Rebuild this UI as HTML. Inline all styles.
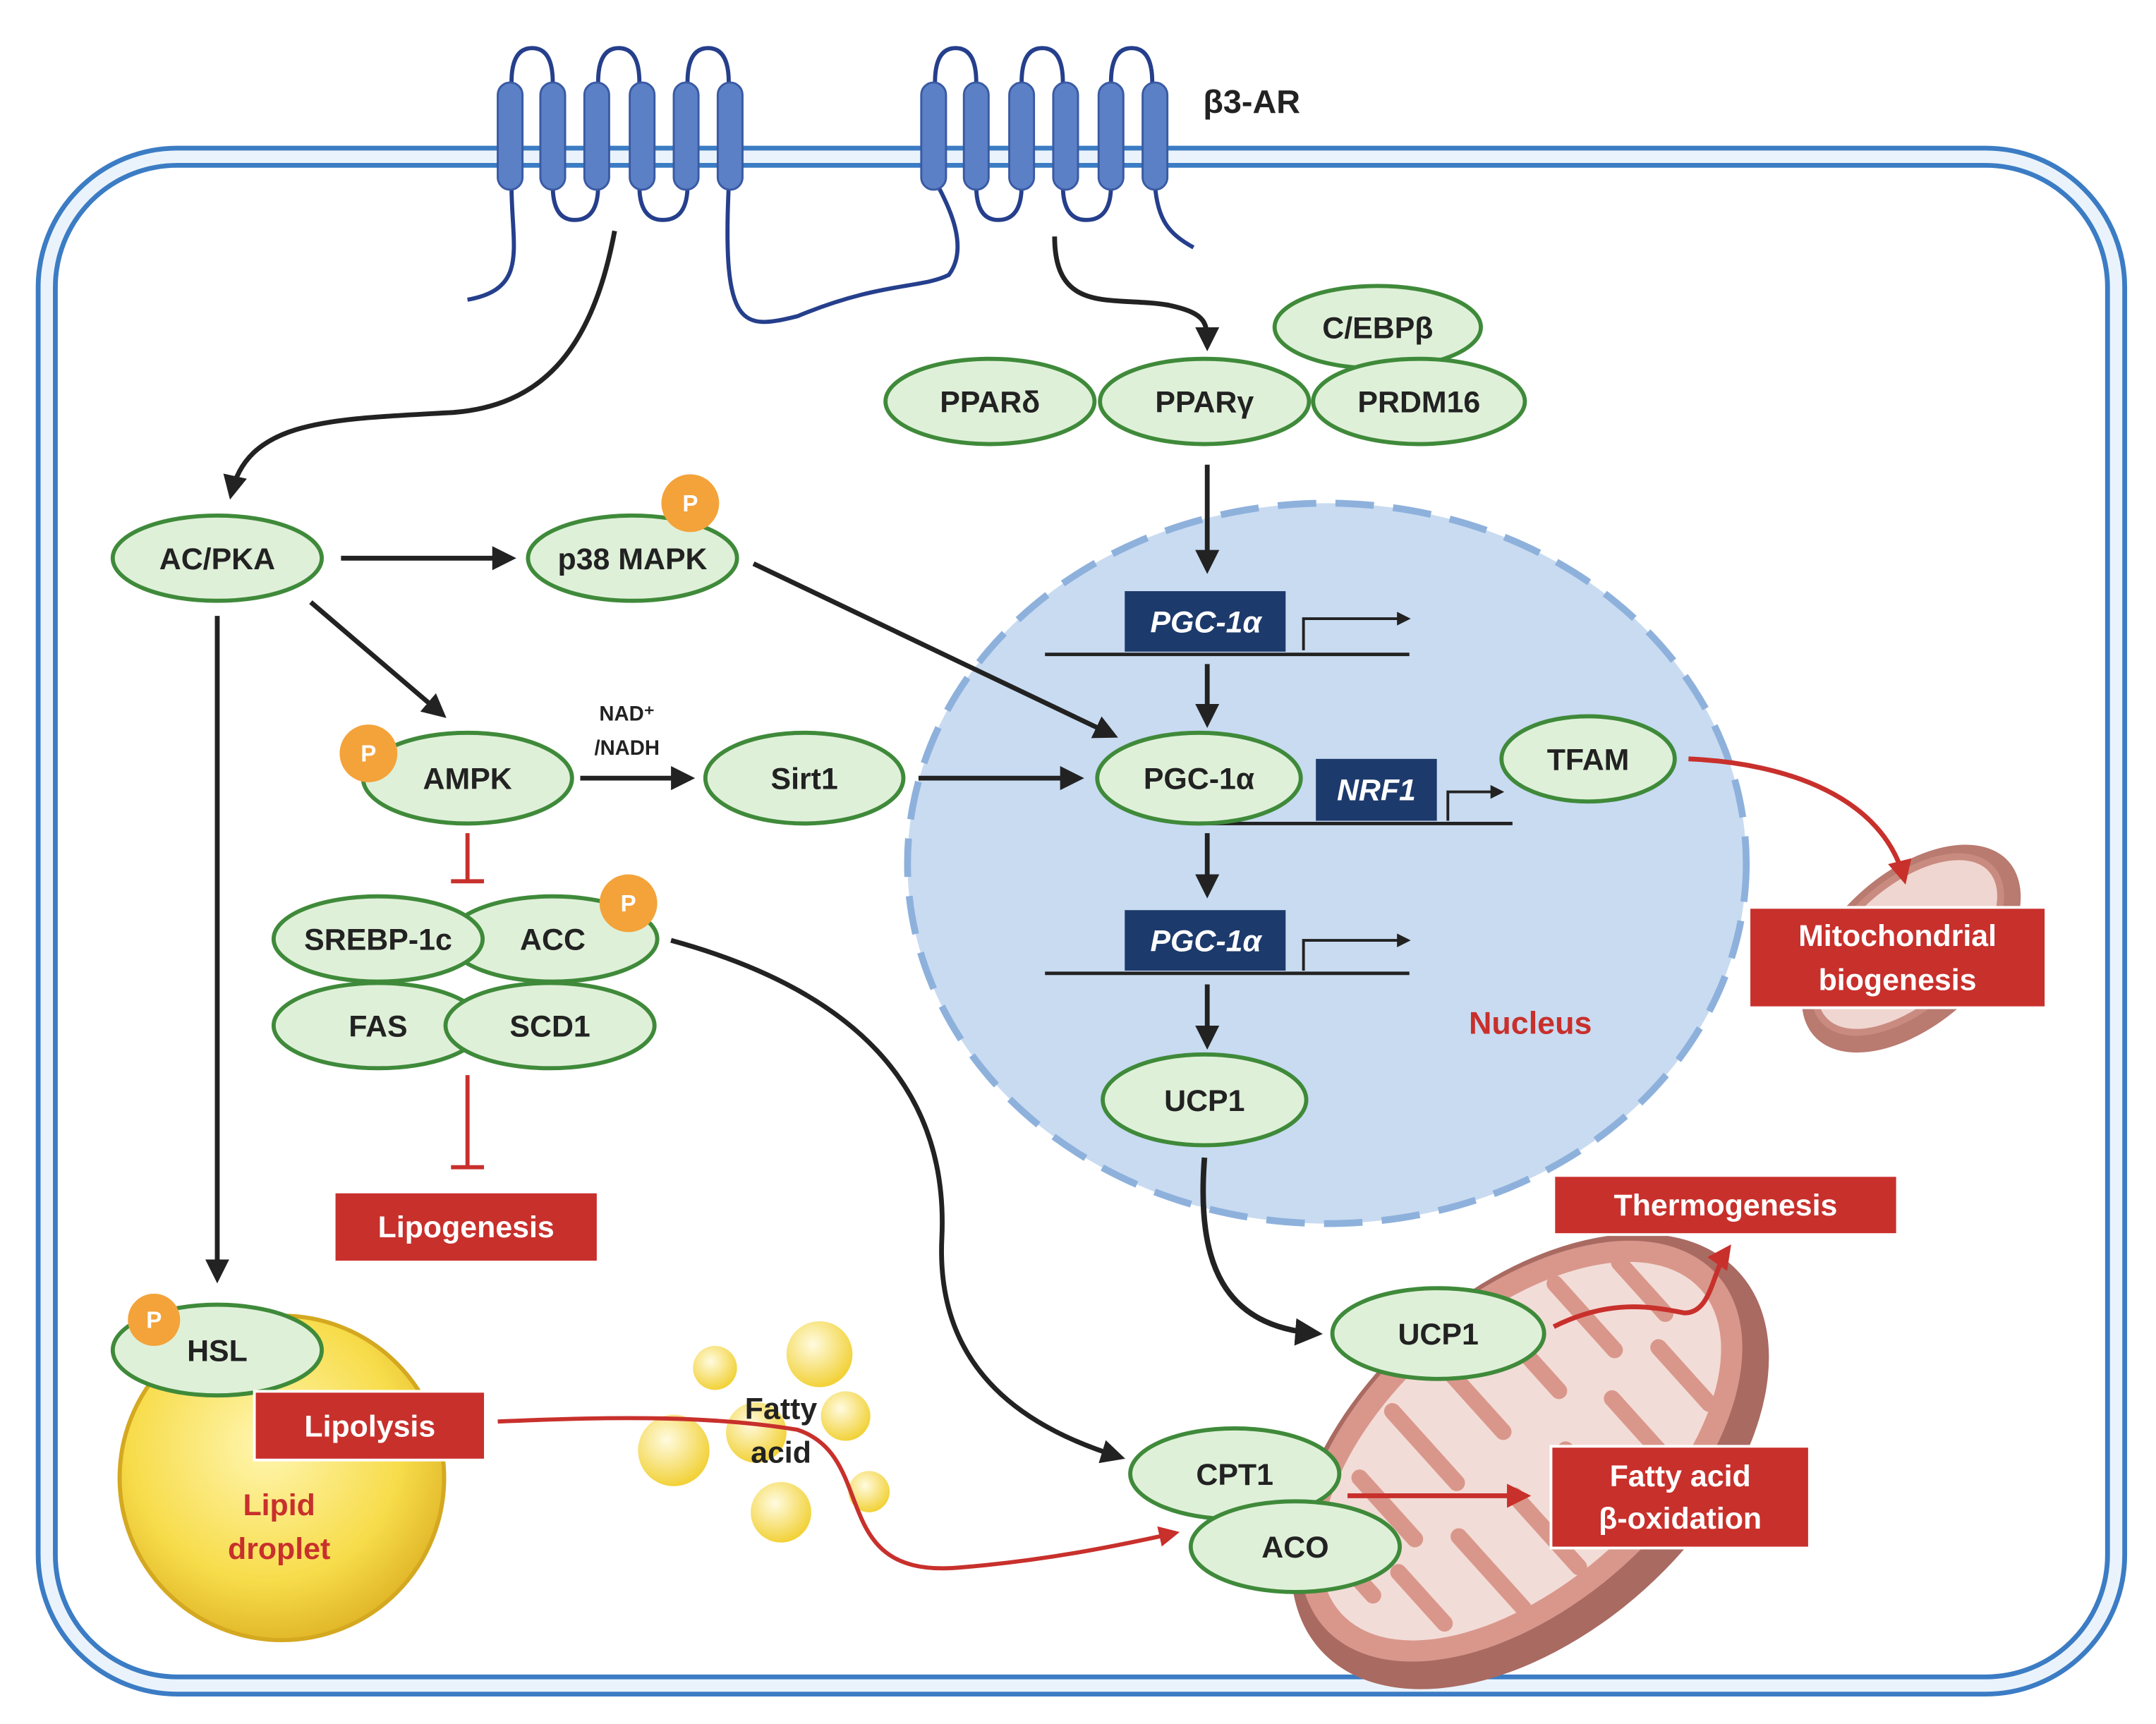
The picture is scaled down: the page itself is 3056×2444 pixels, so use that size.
<!DOCTYPE html>
<html><head><meta charset="utf-8"><style>
html,body{margin:0;padding:0;background:#fff;}
svg{display:block;}
text{font-family:"Liberation Sans",Arial,sans-serif;font-weight:bold;}
</style></head><body>
<svg width="3056" height="2444" viewBox="0 0 1568 1254" xmlns="http://www.w3.org/2000/svg">
<defs>
<marker id="ab" viewBox="0 0 10 10" refX="8" refY="5" markerWidth="5" markerHeight="5" orient="auto"><path d="M0,0 L10,5 L0,10 z" fill="#222"/></marker>
<marker id="ar" viewBox="0 0 10 10" refX="8" refY="5" markerWidth="5" markerHeight="5" orient="auto"><path d="M0,0 L10,5 L0,10 z" fill="#c8302c"/></marker>
<radialGradient id="ld" cx="45%" cy="40%" r="60%"><stop offset="0" stop-color="#fff6b0"/><stop offset="0.7" stop-color="#f7dc4a"/><stop offset="1" stop-color="#e2b92a"/></radialGradient>
<radialGradient id="fa" cx="40%" cy="35%" r="65%"><stop offset="0" stop-color="#fffbe0"/><stop offset="1" stop-color="#f2d23a"/></radialGradient>
</defs>
<!-- cell membrane -->
<rect x="34" y="114" width="1505" height="1112" rx="95" fill="none" stroke="#3b7cc4" stroke-width="16"/>
<rect x="34" y="114" width="1505" height="1112" rx="95" fill="none" stroke="#eaf3fb" stroke-width="9"/>
<!-- nucleus -->
<ellipse cx="965" cy="628" rx="305" ry="262" fill="#c8dbf1" stroke="#8eb1dc" stroke-width="5" stroke-dasharray="28 14"/>
<!-- receptors -->
<g fill="none" stroke="#253f8c" stroke-width="3">
<path d="M372,60 Q372,35 387,35 Q402,35 402,60"/><path d="M435,60 Q435,35 450,35 Q465,35 465,60"/><path d="M500,60 Q500,35 515,35 Q530,35 530,60"/>
<path d="M402,135 Q402,160 418,160 Q435,160 435,135"/><path d="M465,135 Q465,160 482,160 Q500,160 500,135"/>
<path d="M372,135 C372,180 385,210 340,218"/>
<path d="M530,135 C525,240 540,240 580,230 C640,205 670,210 690,200 C705,180 690,150 682,135"/>
<path d="M680,60 Q680,35 695,35 Q710,35 710,60"/><path d="M743,60 Q743,35 758,35 Q773,35 773,60"/><path d="M808,60 Q808,35 823,35 Q838,35 838,60"/>
<path d="M710,135 Q710,160 726,160 Q743,160 743,135"/><path d="M773,135 Q773,160 790,160 Q808,160 808,135"/>
<path d="M840,135 C842,160 850,170 868,180"/>
</g>
<g fill="#5b80c6" stroke="#3a5aa3" stroke-width="1.5">
<rect x="362" y="60" width="18" height="78" rx="9"/><rect x="393" y="60" width="18" height="78" rx="9"/><rect x="425" y="60" width="18" height="78" rx="9"/><rect x="458" y="60" width="18" height="78" rx="9"/><rect x="490" y="60" width="18" height="78" rx="9"/><rect x="522" y="60" width="18" height="78" rx="9"/>
<rect x="670" y="60" width="18" height="78" rx="9"/><rect x="701" y="60" width="18" height="78" rx="9"/><rect x="734" y="60" width="18" height="78" rx="9"/><rect x="766" y="60" width="18" height="78" rx="9"/><rect x="799" y="60" width="18" height="78" rx="9"/><rect x="831" y="60" width="18" height="78" rx="9"/>
</g>
<text x="875" y="82" font-size="24" fill="#222">β3-AR</text>
<!-- mitochondria -->
<g transform="rotate(-42 1390 690)"><ellipse cx="1390" cy="690" rx="95" ry="55" fill="#b97a70"/><ellipse cx="1390" cy="686" rx="82" ry="44" fill="#f0d6d0" stroke="#c98b80" stroke-width="5"/></g>
<g transform="rotate(-42 1110 1060)">
<ellipse cx="1110" cy="1064" rx="205" ry="125" fill="#a96a62"/>
<ellipse cx="1110" cy="1054" rx="192" ry="112" fill="#d9978b"/>
<ellipse cx="1110" cy="1054" rx="176" ry="96" fill="#f2dcd7"/>
<g stroke="#d9978b" stroke-width="12" stroke-linecap="round">
<line x1="960" y1="1000" x2="960" y2="1060"/><line x1="1010" y1="990" x2="1010" y2="1050"/><line x1="1060" y1="970" x2="1060" y2="1040"/><line x1="1110" y1="965" x2="1110" y2="1035"/><line x1="1160" y1="970" x2="1160" y2="1040"/><line x1="1210" y1="980" x2="1210" y2="1045"/><line x1="1255" y1="1000" x2="1255" y2="1050"/>
<line x1="985" y1="1110" x2="985" y2="1060"/><line x1="1035" y1="1140" x2="1035" y2="1070"/><line x1="1085" y1="1145" x2="1085" y2="1075"/><line x1="1135" y1="1145" x2="1135" y2="1075"/><line x1="1185" y1="1140" x2="1185" y2="1070"/><line x1="1235" y1="1120" x2="1235" y2="1065"/>
</g></g>
<!-- lipid droplet -->
<circle cx="205" cy="1075" r="118" fill="url(#ld)" stroke="#d4a820" stroke-width="3"/>
<text x="203" y="1102" font-size="22" fill="#c8302c" text-anchor="middle">Lipid</text>
<text x="203" y="1134" font-size="22" fill="#c8302c" text-anchor="middle">droplet</text>
<!-- fatty acid blobs -->
<g fill="url(#fa)"><circle cx="520" cy="995" r="16"/><circle cx="596" cy="985" r="24"/><circle cx="490" cy="1055" r="26"/><circle cx="550" cy="1042" r="22"/><circle cx="615" cy="1030" r="18"/><circle cx="568" cy="1100" r="22"/><circle cx="632" cy="1085" r="15"/></g>
<text x="568" y="1032" font-size="22" fill="#222" text-anchor="middle">Fatty</text>
<text x="568" y="1064" font-size="22" fill="#222" text-anchor="middle">acid</text>
<!-- black arrows -->
<g fill="none" stroke="#222" stroke-width="3.5" marker-end="url(#ab)">
<path d="M447,168 C430,260 390,295 330,300 C240,305 180,305 168,360"/>
<path d="M767,172 C767,230 810,215 850,222 C878,228 878,235 878,252"/>
<path d="M248,406 L372,406"/>
<path d="M226,438 L322,520"/>
<path d="M158,448 L158,930"/>
<path d="M548,410 L810,535"/>
<path d="M422,566 L502,566"/>
<path d="M668,566 L785,566"/>
<path d="M878,338 L878,414"/>
<path d="M878,483 L878,526"/>
<path d="M878,606 L878,650"/>
<path d="M878,716 L878,760"/>
<path d="M488,684 C620,720 690,790 685,900 C680,1000 750,1040 815,1060"/>
<path d="M876,842 C870,920 890,965 958,970" stroke-width="4"/>
<path d="M948,473 L948,450 L1024,450" stroke-width="2"/>
<path d="M948,706 L948,684 L1024,684" stroke-width="2"/>
<path d="M1053,597 L1053,576 L1092,576" stroke-width="2"/>
</g>
<g stroke="#222" stroke-width="2.5"><line x1="760" y1="476" x2="1025" y2="476"/><line x1="760" y1="708" x2="1025" y2="708"/><line x1="873" y1="599" x2="1100" y2="599"/></g>
<text x="456" y="524" font-size="15" fill="#222" text-anchor="middle">NAD⁺</text>
<text x="456" y="549" font-size="15" fill="#222" text-anchor="middle">/NADH</text>
<!-- inhibitors -->
<g stroke="#c8302c" stroke-width="3"><line x1="340" y1="606" x2="340" y2="640"/><line x1="328" y1="641" x2="352" y2="641"/><line x1="340" y1="782" x2="340" y2="848"/><line x1="328" y1="849" x2="352" y2="849"/></g>
<!-- red arrows -->
<g fill="none" stroke="#c8302c" stroke-width="3.5" marker-end="url(#ar)">
<path d="M1228,552 C1300,555 1370,580 1385,640"/>
<path d="M1130,965 C1170,945 1200,950 1225,955 C1245,955 1245,925 1257,908"/>
<path d="M980,1088 L1110,1088"/>
<path d="M362,1034 C450,1030 520,1030 580,1040 C640,1060 600,1150 700,1140 C760,1135 810,1125 855,1115" stroke-width="3"/>
</g>
<!-- ellipses -->
<g fill="#dff0d9" stroke="#3f8a3a" stroke-width="3">
<ellipse cx="158" cy="406" rx="76" ry="31"/>
<ellipse cx="460" cy="406" rx="76" ry="31"/>
<ellipse cx="340" cy="566" rx="76" ry="33"/>
<ellipse cx="585" cy="566" rx="72" ry="33"/>
<ellipse cx="720" cy="292" rx="76" ry="31"/>
<ellipse cx="1002" cy="238" rx="75" ry="30"/>
<ellipse cx="1032" cy="292" rx="77" ry="31"/>
<ellipse cx="876" cy="292" rx="76" ry="31"/>
<ellipse cx="872" cy="566" rx="74" ry="33"/>
<ellipse cx="1155" cy="552" rx="63" ry="31"/>
<ellipse cx="402" cy="683" rx="76" ry="31"/>
<ellipse cx="275" cy="683" rx="76" ry="31"/>
<ellipse cx="275" cy="746" rx="76" ry="31"/>
<ellipse cx="400" cy="746" rx="76" ry="31"/>
<ellipse cx="876" cy="800" rx="74" ry="33"/>
<ellipse cx="1046" cy="970" rx="77" ry="33"/>
<ellipse cx="898" cy="1072" rx="76" ry="33"/>
<ellipse cx="942" cy="1125" rx="76" ry="33"/>
<ellipse cx="158" cy="982" rx="76" ry="33"/>
</g>
<g font-size="22" fill="#222" text-anchor="middle">
<text x="158" y="414">AC/PKA</text><text x="460" y="414">p38 MAPK</text><text x="340" y="574">AMPK</text><text x="585" y="574">Sirt1</text>
<text x="720" y="300">PPARδ</text><text x="1002" y="246">C/EBPβ</text><text x="1032" y="300">PRDM16</text><text x="876" y="300">PPARγ</text>
<text x="872" y="574">PGC-1α</text><text x="1155" y="560">TFAM</text><text x="402" y="691">ACC</text><text x="275" y="691">SREBP-1c</text>
<text x="275" y="754">FAS</text><text x="400" y="754">SCD1</text><text x="876" y="808">UCP1</text><text x="1046" y="978">UCP1</text>
<text x="898" y="1080">CPT1</text><text x="942" y="1133">ACO</text><text x="158" y="990">HSL</text>
</g>
<!-- P circles -->
<g fill="#f3a33a"><circle cx="502" cy="366" r="21"/><circle cx="268" cy="548" r="21"/><circle cx="457" cy="657" r="21"/><circle cx="112" cy="960" r="19"/></g>
<g font-size="17" fill="#fff" text-anchor="middle"><text x="502" y="372">P</text><text x="268" y="554">P</text><text x="457" y="663">P</text><text x="112" y="966">P</text></g>
<!-- gene boxes -->
<g fill="#1d3a6c"><rect x="818" y="430" width="117" height="44"/><rect x="818" y="662" width="117" height="44"/><rect x="957" y="552" width="88" height="45"/></g>
<g font-size="22" fill="#fff" font-style="italic" text-anchor="middle"><text x="877" y="460">PGC-1α</text><text x="877" y="692">PGC-1α</text><text x="1001" y="582">NRF1</text></g>
<text x="1113" y="752" font-size="23" fill="#c8302c" text-anchor="middle">Nucleus</text>
<!-- red boxes -->
<g fill="#c8302c" stroke="#fff" stroke-width="2">
<rect x="243" y="867" width="192" height="51"/><rect x="185" y="1012" width="168" height="50"/><rect x="1130" y="855" width="250" height="43"/><rect x="1128" y="1052" width="188" height="74"/><rect x="1272" y="660" width="216" height="73"/>
</g>
<g font-size="22" fill="#fff" text-anchor="middle">
<text x="339" y="900">Lipogenesis</text><text x="269" y="1045">Lipolysis</text><text x="1255" y="884">Thermogenesis</text>
<text x="1222" y="1081">Fatty acid</text><text x="1222" y="1112">β-oxidation</text>
<text x="1380" y="688">Mitochondrial</text><text x="1380" y="720">biogenesis</text>
</g>
</svg>
</body></html>
